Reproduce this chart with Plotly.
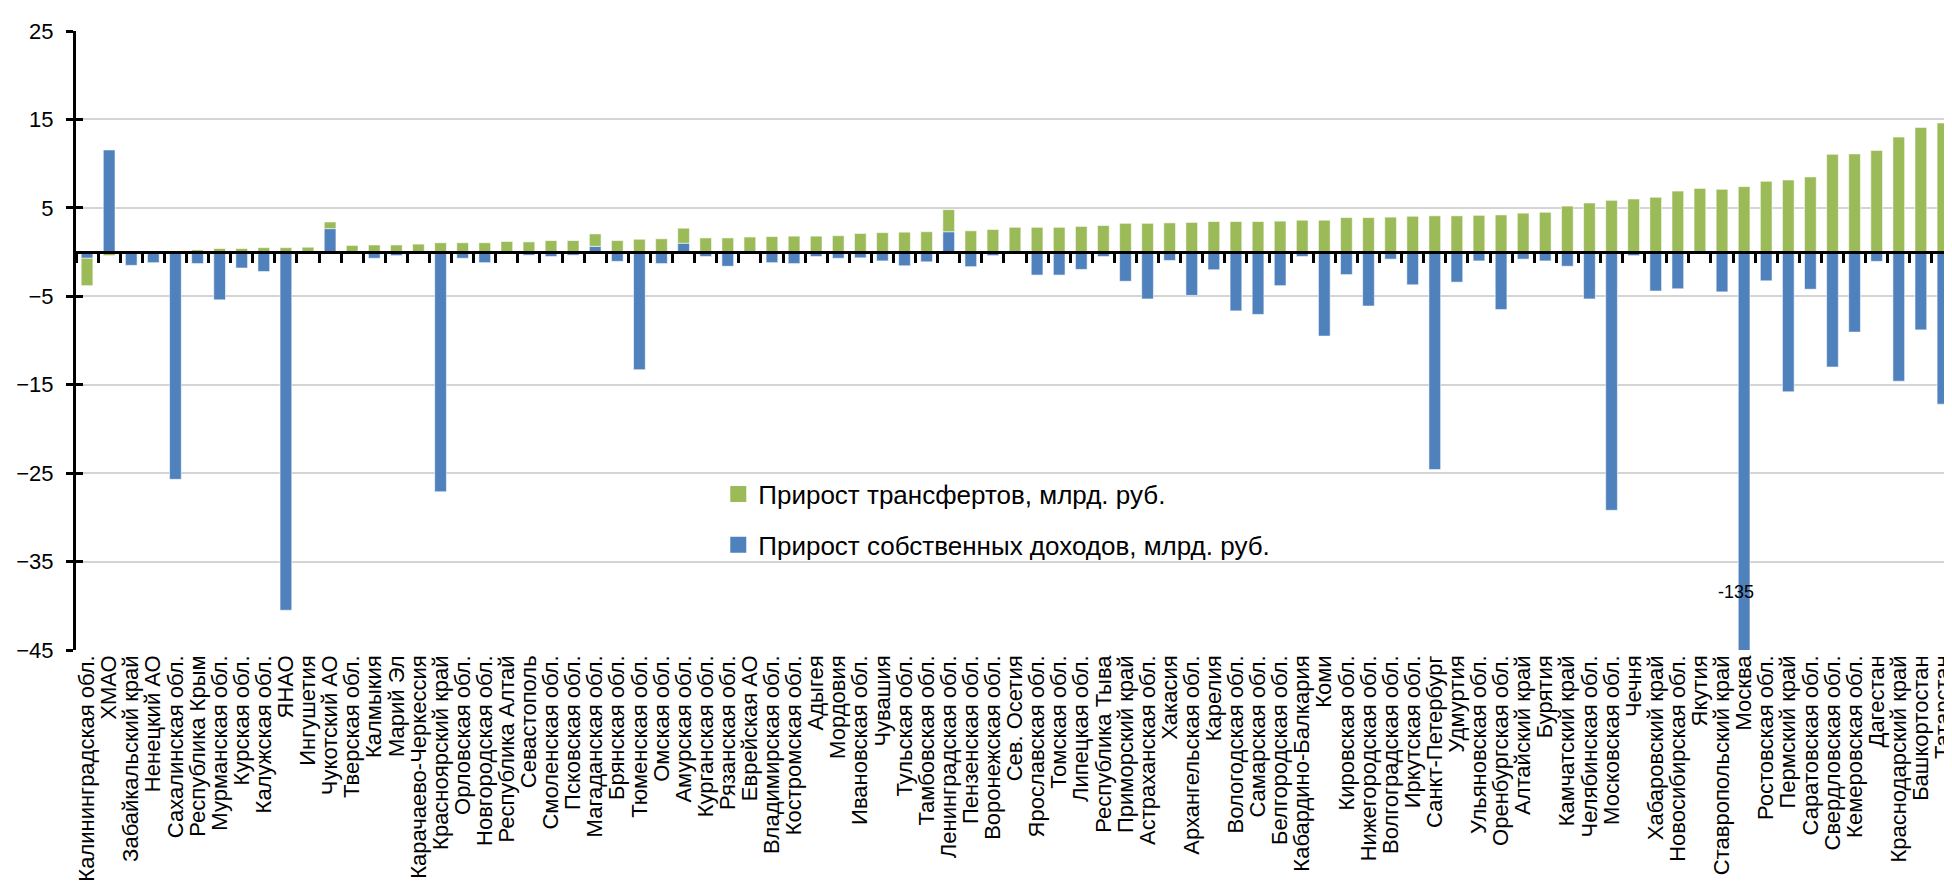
import plotly.graph_objects as go

regions = [
    "Калининградская обл.", "ХМАО", "Забайкальский край", "Ненецкий АО", "Сахалинская обл.",
    "Республика Крым", "Мурманская обл.", "Курская обл.", "Калужская обл.", "ЯНАО",
    "Ингушетия", "Чукотский АО", "Тверская обл.", "Калмыкия", "Марий Эл",
    "Карачаево-Черкессия", "Красноярский край", "Орловская обл.", "Новгородская обл.", "Республика Алтай",
    "Севастополь", "Смоленская обл.", "Псковская обл.", "Магаданская обл.", "Брянская обл.",
    "Тюменская обл.", "Омская обл.", "Амурская обл.", "Курганская обл.", "Рязанская обл.",
    "Еврейская АО", "Владимирская обл.", "Костромская обл.", "Адыгея", "Мордовия",
    "Ивановская обл.", "Чувашия", "Тульская обл.", "Тамбовская обл.", "Ленинградская обл.",
    "Пензенская обл.", "Воронежская обл.", "Сев. Осетия", "Ярославская обл.", "Томская обл.",
    "Липецкая обл.", "Республика Тыва", "Приморский край", "Астраханская обл.", "Хакасия",
    "Архангельская обл.", "Карелия", "Вологодская обл.", "Самарская обл.", "Белгородская обл.",
    "Кабардино-Балкария", "Коми", "Кировская обл.", "Нижегородская обл.", "Волгоградская обл.",
    "Иркутская обл.", "Санкт-Петербург", "Удмуртия", "Ульяновская обл.", "Оренбургская обл.",
    "Алтайский край", "Бурятия", "Камчатский край", "Челябинская обл.", "Московская обл.",
    "Чечня", "Хабаровский край", "Новосибирская обл.", "Якутия", "Ставропольский край",
    "Москва", "Ростовская обл.", "Пермский край", "Саратовская обл.", "Свердловская обл.",
    "Кемеровская обл.", "Дагестан", "Краснодарский край", "Башкортостан", "Татарстан",
]

transfers = [
    -3.1, -0.4, 0.0, 0.0, 0.0,
    0.25, 0.4, 0.4, 0.5, 0.5,
    0.55, 0.75, 0.75, 0.8, 0.8,
    0.9, 1.05, 1.05, 1.05, 1.2,
    1.15, 1.3, 1.3, 1.4, 1.3,
    1.45, 1.5, 1.7, 1.6, 1.6,
    1.7, 1.75, 1.8, 1.8, 1.85,
    2.1, 2.2, 2.25, 2.3, 2.5,
    2.4, 2.55, 2.8, 2.8, 2.8,
    2.9, 3.0, 3.25, 3.25, 3.3,
    3.35, 3.45, 3.45, 3.45, 3.5,
    3.6, 3.6, 3.9, 3.9, 3.95,
    4.05, 4.1, 4.1, 4.15, 4.2,
    4.4, 4.5, 5.2, 5.55, 5.85,
    6.0, 6.2, 6.9, 7.2, 7.1,
    7.4, 8.0, 8.15, 8.5, 11.05,
    11.1, 11.5, 13.0, 14.1, 14.6,
]

own_income = [
    -0.7, 11.55, -1.5, -1.2, -25.7,
    -1.3, -5.4, -1.8, -2.2, -40.5,
    0.0, 2.65, 0.0, -0.7, -0.4,
    0.0, -27.1, -0.7, -1.2, 0.0,
    -0.35, -0.5, -0.35, 0.65, -1.05,
    -13.3, -1.3, 1.0, -0.5, -1.6,
    0.0, -1.2, -1.3, -0.5, -0.7,
    -0.65, -1.0, -1.55, -1.1, 2.3,
    -1.65, -0.4, -0.2, -2.6, -2.6,
    -1.96, -0.5, -3.3, -5.3, -0.95,
    -4.9, -2.0, -6.65, -7.05, -3.8,
    -0.5, -9.5, -2.55, -6.1, -0.8,
    -3.7, -24.6, -3.4, -1.0, -6.5,
    -0.8, -1.0, -1.6, -5.3, -29.2,
    -0.4, -4.4, -4.15, 0.0, -4.5,
    -135.0, -3.25, -15.8, -4.2, -13.0,
    -9.05, -1.05, -14.6, -8.8, -17.2,
]

y_min, y_max, y_step = -45, 25, 10
clipped_label_region = "Москва"
clipped_label_text = "-135"

NAME_TR = "Прирост трансфертов, млрд. руб."
NAME_OWN = "Прирост собственных доходов, млрд. руб."

FONT = "Liberation Sans, Arial, sans-serif"
BLUE = "#4F81BD"
GREEN = "#9BBB59"
EDGE = "rgba(255,255,255,0.55)"

fig = go.Figure()
fig.add_trace(go.Bar(
    x=regions, y=own_income, name=NAME_OWN, showlegend=False,
    marker=dict(color=BLUE, line=dict(color=EDGE, width=1)),
))
fig.add_trace(go.Bar(
    x=regions, y=transfers, name=NAME_TR, showlegend=False,
    marker=dict(color=GREEN, line=dict(color=EDGE, width=1)),
))
# legend entries with larger square swatches
fig.add_trace(go.Scatter(
    x=[None], y=[None], mode="markers", name=NAME_TR, legendgroup="a",
    marker=dict(symbol="square", size=16, color=GREEN),
))
fig.add_trace(go.Scatter(
    x=[None], y=[None], mode="markers", name=NAME_OWN, legendgroup="b",
    marker=dict(symbol="square", size=16, color=BLUE),
))
# helper trace for the overlay axes (zero axis with category ticks, inner y ticks)
fig.add_trace(go.Scatter(
    x=regions, y=[0] * len(regions), xaxis="x2", yaxis="y2", mode="markers",
    marker=dict(opacity=0, size=1), hoverinfo="skip", showlegend=False,
))

zero_pos = (0 - y_min) / (y_max - y_min)
x_range = [-0.5, len(regions) - 0.5]

fig.update_layout(
    width=1952, height=884,
    margin=dict(l=68, r=6, t=23, b=242, autoexpand=False),
    paper_bgcolor="white", plot_bgcolor="white",
    barmode="relative", bargap=0.47,
    font=dict(family=FONT, color="black"),
    showlegend=True,
    legend=dict(
        x=0.342, y=0.29, xanchor="left", yanchor="top",
        font=dict(size=26, family=FONT), bgcolor="rgba(0,0,0,0)",
        traceorder="grouped", tracegroupgap=14, itemsizing="trace",
    ),
    xaxis=dict(
        type="category", tickangle=-90, tickfont=dict(size=22, family=FONT),
        tickmode="array", tickvals=regions, ticktext=regions,
        range=x_range, automargin=False, ticklabeloverflow="allow",
        showline=False, ticks="", showgrid=False, zeroline=False,
    ),
    xaxis2=dict(
        overlaying="x", matches="x", anchor="free", position=zero_pos,
        side="bottom", showticklabels=False, ticks="outside", tickson="boundaries",
        tickmode="array", tickvals=regions,
        ticklen=9, tickwidth=3, tickcolor="black",
        showline=True, linewidth=3, linecolor="black", showgrid=False, zeroline=False,
    ),
    yaxis=dict(
        range=[y_min, y_max], tick0=y_min, dtick=y_step, automargin=False,
        showgrid=True, gridcolor="#d4d4d4", gridwidth=1.5, zeroline=False,
        showline=True, linewidth=3, linecolor="black",
        ticks="outside", ticklen=7, tickwidth=3, tickcolor="black",
        tickfont=dict(size=22, family=FONT), ticklabelstandoff=8,
    ),
    yaxis2=dict(
        overlaying="y", matches="y", anchor="x2", side="left",
        showticklabels=False, ticks="inside", ticklen=7, tickwidth=3, tickcolor="black",
        showgrid=False, zeroline=False, showline=False,
        range=[y_min, y_max], tick0=y_min, dtick=y_step,
    ),
    annotations=[dict(
        x=clipped_label_region, y=-38.4, xref="x", yref="y", xshift=-8,
        text=clipped_label_text, showarrow=False,
        font=dict(size=18, family=FONT, color="black"),
    )],
)

fig.write_html("out.html")
